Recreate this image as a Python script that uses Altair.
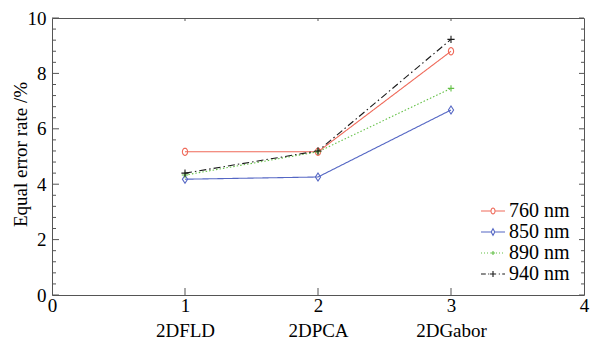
import math
import altair as alt
import pandas as pd

# ---------------- data ----------------
methods = ["2DFLD", "2DPCA", "2DGabor"]
method_pos = [1, 2, 3]
series = ["760 nm", "850 nm", "890 nm", "940 nm"]
v760 = [5.17, 5.17, 8.80]
v850 = [4.18, 4.26, 6.68]
v890 = [4.33, 5.17, 7.46]
v940 = [4.40, 5.20, 9.23]
x_ticks = [0, 1, 2, 3, 4]
y_ticks = [0, 2, 4, 6, 8, 10]
y_minor = [0.4, 0.8, 1.2, 1.6, 2.4, 2.8, 3.2, 3.6, 4.4, 4.8, 5.2, 5.6,
           6.4, 6.8, 7.2, 7.6, 8.4, 8.8, 9.2, 9.6]
x_inner_ticks = [1, 2, 3]

# ---------------- style ----------------
colors = ["#ef6a5a", "#5567c4", "#63c046", "#1a1a1a"]
dashes = [[1, 0], [1, 0], [1.5, 2], [7, 3, 1.5, 3]]
FONT = "Liberation Serif"
FRAME = "#555555"


def ellipse(rx, ry, n=20):
    pts = []
    for i in range(n):
        a = 2 * math.pi * i / n
        pts.append(f"{rx * math.cos(a):.3f},{ry * math.sin(a):.3f}")
    return "M" + "L".join(pts) + "Z"


def diamond(rx, ry):
    return f"M0,{-ry}L{rx},0L0,{ry}L{-rx},0Z"


def plus(r):
    return f"M{-r},0H{r}M0,{-r}V{r}"


def segs(pattern, start=-2.0, end=2.0, gap_mid=0.0):
    out = []
    p = start
    i = 0
    while p < end:
        on, off = pattern[i % len(pattern)]
        q = min(p + on, end)
        a, b = p, q
        if gap_mid > 0:
            if -gap_mid <= a and b <= gap_mid:
                a = b
            elif a < -gap_mid < b:
                b = -gap_mid
            elif a < gap_mid < b:
                a = gap_mid
        if b > a:
            out.append(f"M{a:.3f},0H{b:.3f}")
        p = q + off
        i += 1
    return "".join(out)


marker_paths = [ellipse(0.65, 0.9), diamond(0.65, 1.0), plus(0.8), plus(0.9)]
legend_paths = [
    "M-2,0H-0.35M0.35,0H2" + ellipse(0.33, 0.5),
    "M-2,0H-0.32M0.32,0H2" + diamond(0.3, 0.55),
    segs([(0.17, 0.33)], gap_mid=0.4) + plus(0.35),
    segs([(0.8, 0.4), (0.17, 0.4)], gap_mid=0.55) + plus(0.5),
]

rows = []
for name, vals in zip(series, [v760, v850, v890, v940]):
    for x, y in zip(method_pos, vals):
        rows.append({"series": name, "x": x, "y": y})
df = pd.DataFrame(rows)

xscale = alt.Scale(domain=[0, 4], nice=False, zero=False)
yscale = alt.Scale(domain=[0, 10], nice=False, zero=False)

label_expr = "datum.label"
for pos, m in reversed(list(zip(method_pos, methods))):
    label_expr = f"datum.value == {pos} ? ['{pos}', '{m}'] : " + label_expr

x_axis = alt.Axis(values=x_ticks, labelExpr=label_expr, title=None, domain=False,
                  ticks=False, tickSize=0, grid=False, labelFont=FONT, labelFontSize=19,
                  labelColor="black", labelPadding=1, labelLineHeight=25,
                  labelFlush=False, labelOverlap=False, labelBaseline="top")
y_axis = alt.Axis(values=y_ticks, title="Equal error rate /%", domain=False, ticks=False,
                  tickSize=0, grid=False, labelFont=FONT, labelFontSize=19,
                  labelColor="black", labelPadding=6, labelFlush=False, labelOverlap=False,
                  titleFont=FONT, titleFontSize=19, titleFontWeight="normal",
                  titleColor="black", titleAngle=270, titleX=-26, titleY=136,
                  titleAlign="center", titleBaseline="alphabetic")

X = alt.X("x:Q", scale=xscale, axis=x_axis)
Y = alt.Y("y:Q", scale=yscale, axis=y_axis)

lines = alt.Chart(df).mark_line(strokeWidth=1.1, clip=True).encode(
    x=X, y=Y,
    color=alt.Color("series:N", scale=alt.Scale(domain=series, range=colors), legend=None),
    strokeDash=alt.StrokeDash("series:N", scale=alt.Scale(domain=series, range=dashes), legend=None),
    detail="series:N",
)

points = alt.Chart(df).mark_point(filled=False, size=64, strokeWidth=1.1, opacity=1).encode(
    x=X, y=Y,
    color=alt.Color("series:N", scale=alt.Scale(domain=series, range=colors), legend=None),
    shape=alt.Shape("series:N", scale=alt.Scale(domain=series, range=marker_paths), legend=None),
)


def tick_layer(xs, ys, orient, size, xoff=0, yoff=0):
    d = pd.DataFrame({"x": xs, "y": ys})
    return alt.Chart(d).mark_tick(orient=orient, size=size, thickness=1,
                                  color=FRAME, opacity=1, xOffset=xoff, yOffset=yoff).encode(
        x=X, y=Y,
    )


ticks = [
    tick_layer([0] * len(y_ticks), y_ticks, "horizontal", 7, xoff=3.5),
    tick_layer([0] * len(y_minor), y_minor, "horizontal", 4, xoff=2),
    tick_layer([4] * len(y_ticks), y_ticks, "horizontal", 5, xoff=-2.5),
    tick_layer([4] * len(y_minor), y_minor, "horizontal", 3, xoff=-1.5),
    tick_layer(x_inner_ticks, [0] * len(x_inner_ticks), "vertical", 7, yoff=-3.5),
    tick_layer(x_inner_ticks, [10] * len(x_inner_ticks), "vertical", 3, yoff=1.5),
]

leg = dict(title=None, orient="none", legendX=431, legendY=183,
           labelFont=FONT, labelFontSize=20, labelColor="black",
           symbolSize=144, symbolStrokeWidth=1.1, labelOffset=6,
           rowPadding=1, padding=0)

legend_layer = alt.Chart(pd.DataFrame({"series": series})).transform_filter("false").mark_point(
    filled=False, opacity=1, strokeWidth=1.1
).encode(
    color=alt.Color("series:N", scale=alt.Scale(domain=series, range=colors),
                    legend=alt.Legend(**leg)),
    shape=alt.Shape("series:N", scale=alt.Scale(domain=series, range=legend_paths),
                    legend=alt.Legend(**leg)),
)

chart = alt.layer(lines, points, *ticks, legend_layer).resolve_scale(
    shape="independent", color="independent"
).properties(
    width=532, height=277,
    autosize=alt.AutoSizeParams(type="none"),
    padding={"left": 44, "top": 10, "right": 8, "bottom": 48},
    background="white",
).configure_view(stroke=FRAME, strokeWidth=1)

chart.save("out.html", embed_options={"renderer": "svg", "actions": False})
